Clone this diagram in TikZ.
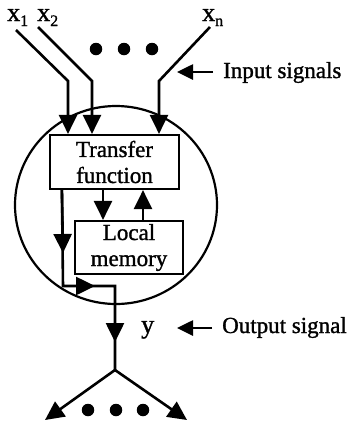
\documentclass[tikz,border=0pt]{standalone}
\usepackage{fontspec}
\setmainfont{Liberation Serif}[FakeBold=1.2]
\usetikzlibrary{arrows.meta,shapes.geometric}
\begin{document}
\begin{tikzpicture}[x=1pt,y=-1pt,
  wire/.style={line width=2.6pt},
  tip/.style={line width=2.6pt,-{Triangle[length=19pt,width=18pt]}},
  smalltip/.style={line width=2.6pt,-{Triangle[length=16pt,width=15pt]}},
  box/.style={draw,line width=2.2pt,inner sep=0pt,align=center,
    font=\fontsize{23}{26}\selectfont},
  lbl/.style={inner sep=0pt,anchor=base west,font=\fontsize{23}{26}\selectfont},
  xlbl/.style={inner sep=0pt,anchor=base west,font=\fontsize{26}{26}\selectfont},
  dot/.style={circle,fill,inner sep=0pt,minimum size=12.5pt}]
\useasboundingbox (0,0) rectangle (352,424);
% neuron body
\node[draw,ellipse,line width=2.2pt,minimum width=202pt,minimum height=198pt,inner sep=0pt] (neuron) at (116,205) {};
\node[box,minimum width=129pt,minimum height=54pt] (tf) at (114.5,162) {Transfer\\function};
\node[box,minimum width=108pt,minimum height=53pt] (lm) at (129,247.5) {Local\\memory};
% input labels
\node[xlbl] (x1) at (7,21) {x\raisebox{-5pt}{\fontsize{16}{16}\selectfont 1}};
\node[xlbl] (x2) at (37,21) {x\raisebox{-5pt}{\fontsize{16}{16}\selectfont 2}};
\node[xlbl] (xn) at (202,21) {x\raisebox{-5pt}{\fontsize{16}{16}\selectfont n}};
% dots
\node[dot] (d1) at (96,49) {};
\node[dot] (d2) at (124,49) {};
\node[dot] (d3) at (152,49) {};
\node[dot] (d4) at (88,410) {};
\node[dot] (d5) at (116,410) {};
\node[dot] (d6) at (143,410) {};
% input wires
\coordinate (s1) at (16,30); \coordinate (b1) at (68,81);
\coordinate (s2) at (38,27); \coordinate (b2) at (92,81);
\coordinate (sn) at (210,27); \coordinate (bn) at (159,81);
\draw[tip] (s1) -- (b1) -- (b1 |- tf.north);
\draw[tip] (s2) -- (b2) -- (b2 |- tf.north);
\draw[tip] (sn) -- (bn) -- (bn |- tf.north);
% input signals annotation
\node[lbl] (inlbl) at (223,78) {Input signals};
\coordinate (inTip) at (177,72);
\draw[smalltip] (213,72) -- (inTip);
% internal arrows
\draw[tip] ([xshift=-11.5pt]tf.south) -- ([xshift=-11.5pt]tf.south |- lm.north);
\draw[tip] ([xshift=14pt]lm.north) -- ([xshift=14pt]lm.north |- tf.south);
% output path
\coordinate (l0) at ([xshift=13pt]tf.south west);
\coordinate (l1) at (63,286);
\coordinate (l2) at (115,286);
\coordinate (branch) at (115,370);
\coordinate (ldown) at (63,253);
\coordinate (lright) at (95,286);
\coordinate (ytip) at (115,342);
\draw[wire,line join=miter] (l0) -- (l1) -- (l2) -- (branch);
\draw[tip] (l0) -- (ldown);
\draw[tip] (l1) -- (lright);
\draw[tip] (l2) -- (ytip);
% fan-out
\coordinate (o1) at (45,420);
\coordinate (o2) at (187,420);
\draw[tip] (branch) -- (o1);
\draw[tip] (branch) -- (o2);
% output labels
\node[xlbl] (ylbl) at (141,333) {y};
\node[lbl] (outlbl) at (222,333) {Output signal};
\coordinate (outTip) at (177,328);
\draw[smalltip] (212,328) -- (outTip);
\end{tikzpicture}
\end{document}
